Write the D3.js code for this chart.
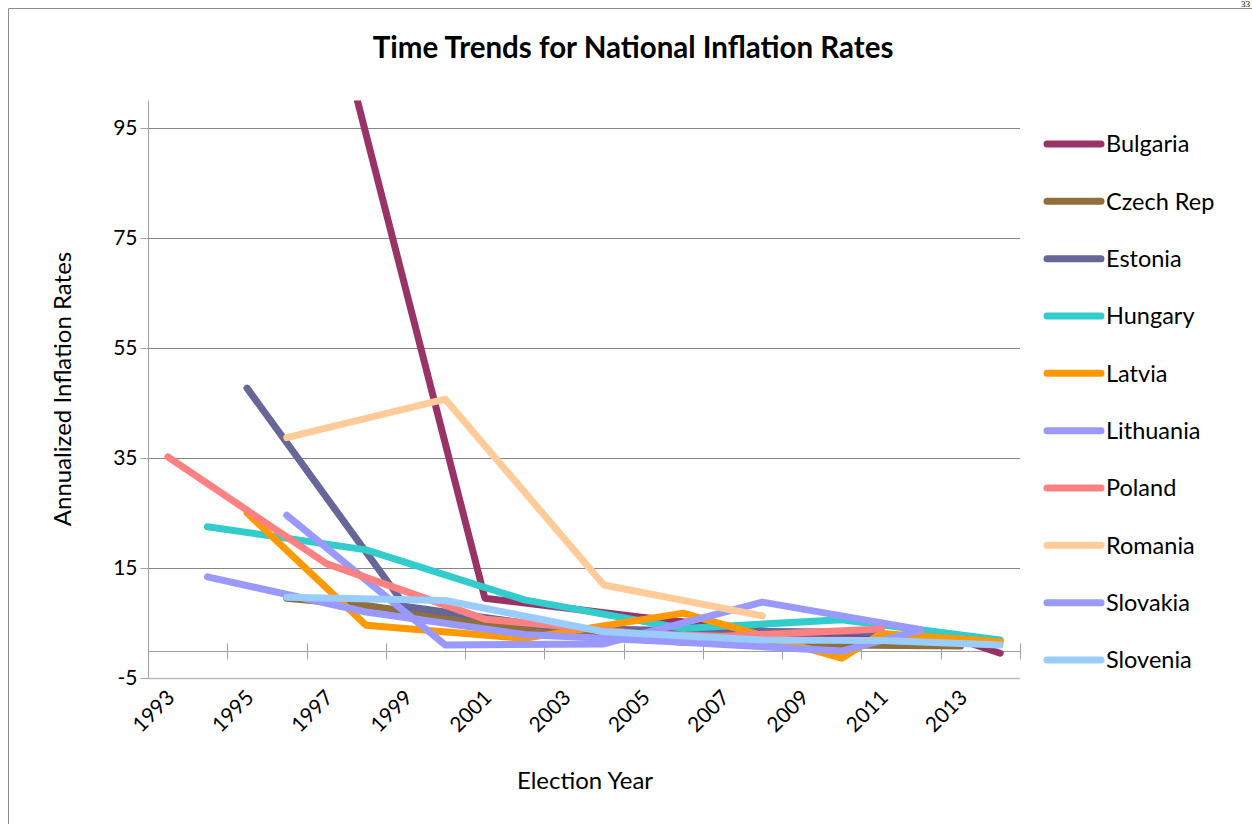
<!DOCTYPE html>
<html><head><meta charset="utf-8">
<script src="https://cdn.jsdelivr.net/npm/d3@7"></script>
<style>
html,body{margin:0;padding:0;background:#fff;}
svg{display:block;font-family:Lato,"Open Sans",sans-serif;}
</style>
</head><body>
<svg id="chart" width="1252" height="824"></svg>
<script>
// ---- data ----
const categories = [1993,1994,1995,1996,1997,1998,1999,2000,2001,2002,2003,2004,2005,2006,2007,2008,2009,2010,2011,2012,2013,2014];
const xTickLabels = ["1993","1995","1997","1999","2001","2003","2005","2007","2009","2011","2013"];
const yTickValues = [-5,15,35,55,75,95];
const countries = ["Bulgaria","Czech Rep","Estonia","Hungary","Latvia","Lithuania","Poland","Romania","Slovakia","Slovenia"];
const colors = ["#993366","#8F6F3C","#666699","#33CCCC","#FF9900","#9999FF","#FF8080","#FFCC99","#9999FF","#99CCFF"];

const bulgariaYears = [1997,2001,2005,2009,2013,2014];
const bulgariaValues = [122,9.5,6.0,2.8,1.9,-0.5];
const czechYears = [1996,1998,2002,2006,2010,2013];
const czechValues = [9.5,8.2,4.0,1.5,1.0,0.8];
const estoniaYears = [1995,1999,2003,2007,2011];
const estoniaValues = [47.7,8.0,4.0,3.5,3.3];
const hungaryYears = [1994,1998,2002,2006,2010,2014];
const hungaryValues = [22.5,18.3,9.2,4.0,5.6,1.9];
const latviaYears = [1995,1998,2002,2006,2010,2011,2014];
const latviaValues = [25.0,4.6,2.2,6.8,-1.4,3.1,1.6];
const lithuaniaYears = [1996,2000,2004,2008,2012];
const lithuaniaValues = [24.6,1.0,1.2,8.8,3.8];
const polandYears = [1993,1997,2001,2005,2007,2011];
const polandValues = [35.2,15.8,5.7,3.0,2.6,3.9];
const romaniaYears = [1996,2000,2004,2008];
const romaniaValues = [38.7,45.7,11.9,6.3];
const slovakiaYears = [1994,1998,2002,2006,2010,2012];
const slovakiaValues = [13.4,7.0,2.9,1.5,-0.1,3.7];
const sloveniaYears = [1996,2000,2004,2008,2011,2014];
const sloveniaValues = [9.7,9.1,3.4,1.9,1.8,1.0];

const seriesYears = [bulgariaYears,czechYears,estoniaYears,hungaryYears,latviaYears,lithuaniaYears,polandYears,romaniaYears,slovakiaYears,sloveniaYears];
const seriesValues = [bulgariaValues,czechValues,estoniaValues,hungaryValues,latviaValues,lithuaniaValues,polandValues,romaniaValues,slovakiaValues,sloveniaValues];

// ---- layout ----
const svg = d3.select("#chart");
const plot = {left:148, right:1020, top:100.5, bottom:678};
const gridColor = "#868686";

const x = d3.scaleBand().domain(categories).range([plot.left, plot.right]).padding(0);
const xc = d => x(d) + x.bandwidth()/2;
const y = d3.scaleLinear().domain([-5,100]).range([plot.bottom, plot.top]);

// outer frame
svg.append("path").attr("d","M8.5,824 L8.5,8.5 L1252,8.5").attr("fill","none").attr("stroke","#8c8c8c").attr("stroke-width",1);
svg.append("text").attr("x",1250).attr("y",7).attr("text-anchor","end")
  .attr("font-family","'Liberation Serif',serif").attr("font-size",9).text("33");

// title
svg.append("text").attr("x",633).attr("y",58).attr("text-anchor","middle")
  .attr("font-weight","bold").attr("font-size",29.5).attr("fill","#000")
  .text("Time Trends for National Inflation Rates");

// gridlines
const grid = svg.append("g");
grid.selectAll("line").data(yTickValues).join("line")
  .attr("x1",plot.left).attr("x2",plot.right)
  .attr("y1",d=>Math.round(y(d))+0.5).attr("y2",d=>Math.round(y(d))+0.5)
  .attr("stroke",d=> d===-5 ? "#b8b8b8" : gridColor).attr("stroke-width",d=> d===-5?1.5:1);

// y axis
const yAxis = d3.axisLeft(y).tickValues(yTickValues).tickSize(8).tickPadding(3).tickFormat(d=>String(d));
const gy = svg.append("g").attr("transform",`translate(${plot.left+0.5},0)`).call(yAxis);
gy.select(".domain").attr("d",`M-0,${plot.top}V${plot.bottom}`).attr("stroke","#a0a0a0");
gy.selectAll(".tick line").attr("stroke","#a0a0a0");
gy.selectAll(".tick text").attr("font-size",21).attr("font-family","Lato").attr("fill","#000");

// x axis at value 0
const x0 = Math.round(y(0))+0.5;
const gx = svg.append("g");
gx.append("line").attr("x1",plot.left).attr("x2",plot.right).attr("y1",x0).attr("y2",x0).attr("stroke","#a0a0a0");
const tickBounds = categories.filter((d,i)=> i%2===0).map(d=>x(d)).concat([plot.right]);
gx.selectAll("line.tk").data(tickBounds).join("line").attr("class","tk")
  .attr("x1",d=>Math.round(d)+0.5).attr("x2",d=>Math.round(d)+0.5)
  .attr("y1",x0-8).attr("y2",x0+8).attr("stroke","#a0a0a0");
gx.selectAll("text").data(xTickLabels).join("text")
  .attr("transform",d=>`translate(${xc(+d)+8},${699}) rotate(-45)`)
  .attr("text-anchor","end").attr("font-size",21).attr("fill","#000").text(d=>d);

// axis titles
svg.append("text").attr("x",585).attr("y",789).attr("text-anchor","middle").attr("font-size",24).text("Election Year");
svg.append("text").attr("transform","translate(71,389) rotate(-90)").attr("text-anchor","middle").attr("font-size",24).text("Annualized Inflation Rates");

// clip
svg.append("defs").append("clipPath").attr("id","pc").append("rect")
  .attr("x",plot.left).attr("y",plot.top).attr("width",plot.right-plot.left).attr("height",plot.bottom-plot.top);

const line = d3.line().x(d=>xc(d[0])).y(d=>y(d[1]));
const lines = svg.append("g").attr("clip-path","url(#pc)");
countries.forEach((c,i)=>{
  const pts = seriesYears[i].map((yr,j)=>[yr, seriesValues[i][j]]);
  lines.append("path").datum(pts).attr("d",line).attr("fill","none")
    .attr("stroke",colors[i]).attr("stroke-width",7).attr("stroke-linecap","round").attr("stroke-linejoin","round");
});

// legend
const leg = svg.append("g");
const legY = d3.scalePoint().domain(countries).range([144,660]);
countries.forEach((c,i)=>{
  const yy = legY(c);
  leg.append("line").attr("x1",1047).attr("x2",1101).attr("y1",yy).attr("y2",yy)
    .attr("stroke",colors[i]).attr("stroke-width",7).attr("stroke-linecap","round");
  leg.append("text").attr("x",1106).attr("y",yy).attr("dy","0.36em").attr("font-size",23.5).attr("fill","#000").text(c);
});
</script>
</body></html>
